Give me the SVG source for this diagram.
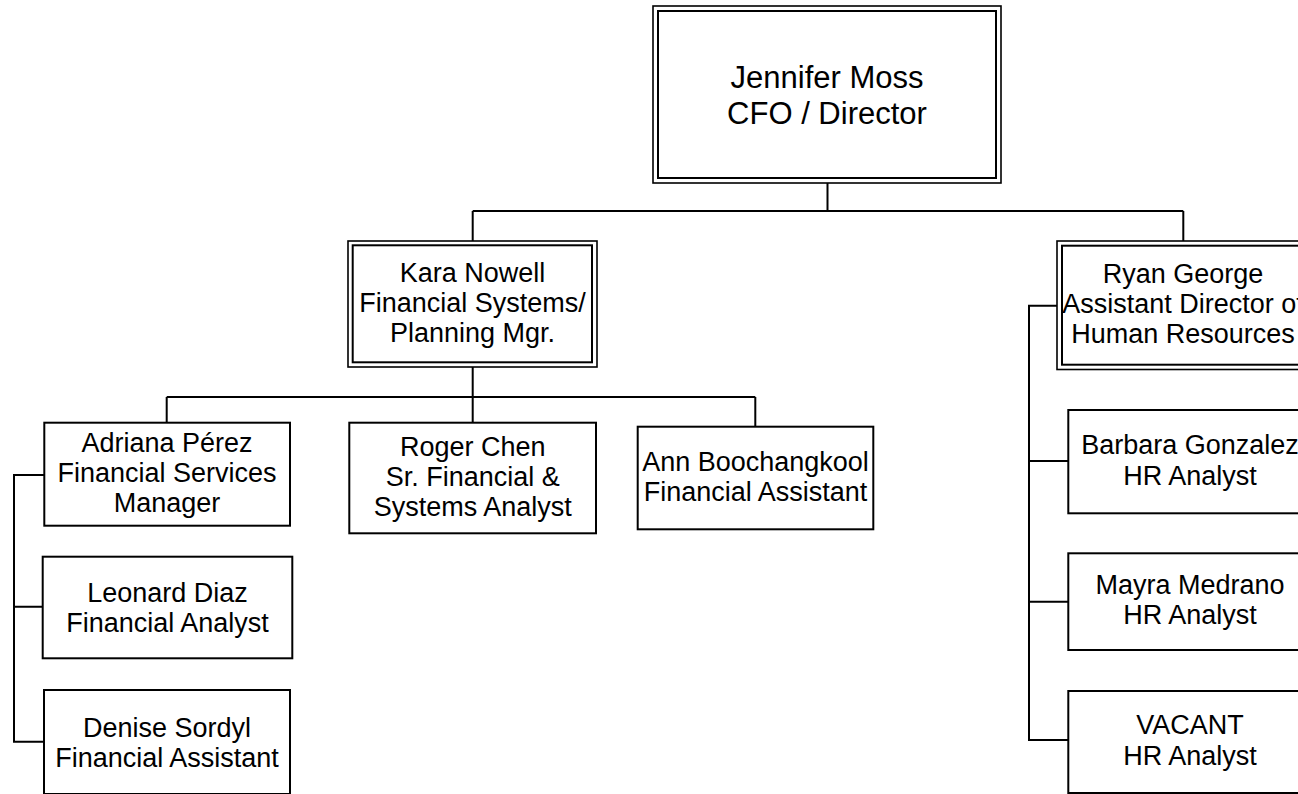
<svg xmlns="http://www.w3.org/2000/svg" width="1298" height="794" viewBox="0 0 1298 794">
<style>
  .box { fill: #ffffff; stroke: #000000; stroke-width: 2; }
  .outer { fill: #ffffff; stroke: #000000; stroke-width: 1.6; }
  .inner { fill: none; stroke: #000000; stroke-width: 2; }
  .conn { fill: none; stroke: #000000; stroke-width: 2; }
  text { font-family: "Liberation Sans", Arial, sans-serif; font-size: 27px; fill: #000000; text-anchor: middle; }
  .big { font-size: 31px; }
</style>
<rect x="0" y="0" width="1298" height="794" fill="#ffffff"/>
<g id="connectors">
  <path class="conn" d="M827.5,183 V211 M472.7,211 H1183.3 M472.7,211 V241 M1183.3,211 V241"/>
  <path class="conn" d="M472.7,367 V397 M166.7,397 H755.3 M166.7,397 V423 M472.7,397 V423 M755.3,397 V427"/>
  <path class="conn" d="M44,475 H14 V741.7 H44 M14,606.7 H42.7"/>
  <path class="conn" d="M1057,305.7 H1029 V740 H1068.3 M1029,461 H1068.3 M1029,601.7 H1068.3"/>
</g>
<g id="jennifer">
  <rect class="outer" x="653" y="6" width="348" height="177"/>
  <rect class="inner" x="658" y="11" width="338" height="167"/>
  <text class="big" x="827" y="88">Jennifer Moss</text>
  <text class="big" x="827" y="123.5">CFO / Director</text>
</g>
<g id="kara">
  <rect class="outer" x="348" y="241" width="249" height="126"/>
  <rect class="inner" x="352.7" y="245.3" width="239.3" height="117"/>
  <text x="472.5" y="282">Kara Nowell</text>
  <text x="472.5" y="312">Financial Systems/</text>
  <text x="472.5" y="342">Planning Mgr.</text>
</g>
<g id="ryan">
  <rect class="outer" x="1057" y="241" width="252" height="128.5"/>
  <rect class="inner" x="1062" y="245.7" width="242" height="119"/>
  <text x="1183" y="283">Ryan George</text>
  <text x="1183" y="313">Assistant Director of</text>
  <text x="1183" y="343">Human Resources</text>
</g>
<g id="adriana">
  <rect class="box" x="44.3" y="422.7" width="245.7" height="103"/>
  <text x="167" y="452">Adriana Pérez</text>
  <text x="167" y="482">Financial Services</text>
  <text x="167" y="512">Manager</text>
</g>
<g id="roger">
  <rect class="box" x="349.3" y="422.7" width="246.7" height="110.6"/>
  <text x="472.7" y="456">Roger Chen</text>
  <text x="472.7" y="486">Sr. Financial &amp;</text>
  <text x="472.7" y="516">Systems Analyst</text>
</g>
<g id="ann">
  <rect class="box" x="637.7" y="426.7" width="235.6" height="102.6"/>
  <text x="755.5" y="471">Ann Boochangkool</text>
  <text x="755.5" y="501">Financial Assistant</text>
</g>
<g id="leonard">
  <rect class="box" x="42.7" y="556.7" width="249.6" height="101.6"/>
  <text x="167.5" y="601.5">Leonard Diaz</text>
  <text x="167.5" y="631.5">Financial Analyst</text>
</g>
<g id="denise">
  <rect class="box" x="44" y="690" width="246" height="104"/>
  <text x="167" y="736.5">Denise Sordyl</text>
  <text x="167" y="766.5">Financial Assistant</text>
</g>
<g id="barbara">
  <rect class="box" x="1068.3" y="410" width="244" height="103.3"/>
  <text x="1190" y="454">Barbara Gonzalez</text>
  <text x="1190" y="484.5">HR Analyst</text>
</g>
<g id="mayra">
  <rect class="box" x="1068.3" y="553.3" width="244" height="96.7"/>
  <text x="1190" y="593.5">Mayra Medrano</text>
  <text x="1190" y="624">HR Analyst</text>
</g>
<g id="vacant">
  <rect class="box" x="1068.3" y="691" width="244" height="102"/>
  <text x="1190" y="734">VACANT</text>
  <text x="1190" y="765">HR Analyst</text>
</g>
</svg>
